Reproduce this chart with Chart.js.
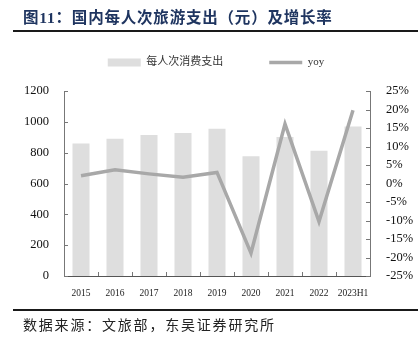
<!DOCTYPE html>
<html>
<head>
<meta charset="utf-8">
<script src="https://cdn.jsdelivr.net/npm/chart.js@4/dist/chart.umd.min.js"></script>
<style>
  html, body { margin: 0; padding: 0; background: #fff; }
  #wrap { position: relative; width: 418px; height: 345px; overflow: hidden; }
  #chart { position: absolute; left: 0; top: 0; }
  .title {
    position: absolute; left: 23px; top: 5px;
    font-family: "Liberation Serif", "Noto Sans CJK SC", serif;
    font-weight: bold; font-size: 15.5px; letter-spacing: 0.8px;
    color: #1f3560; white-space: nowrap;
  }
  .rule { position: absolute; left: 13px; right: 0; height: 2px; background: #1a1a1a; }
  .source {
    position: absolute; left: 23px; top: 314px;
    font-family: "Noto Sans CJK SC", sans-serif;
    font-size: 14px; letter-spacing: 1.8px; color: #222; white-space: nowrap;
  }
</style>
</head>
<body>
<div id="wrap">
  <canvas id="chart" width="418" height="345"></canvas>
  <div class="title">图11：国内每人次旅游支出（元）及增长率</div>
  <div class="rule" style="top:30px"></div>
  <div class="rule" style="top:309px"></div>
  <div class="source">数据来源：文旅部，东吴证券研究所</div>
</div>
<script>
// per-trip domestic tourism spending (yuan) and its growth rate (%)
var years = ["2015", "2016", "2017", "2018", "2019", "2020", "2021", "2022", "2023H1"];
var spending = [860, 890, 915, 928, 955, 776, 901, 812, 970];
var yoy = [2.1, 3.7, 2.6, 1.7, 3.0, -18.8, 16.1, -10.3, 19.8];

var serif = "'Liberation Serif', 'Noto Sans CJK SC', serif";

// small tick marks drawn on the inner side of each axis
var innerTicks = {
  id: "innerTicks",
  afterDraw: function(chart) {
    var ctx = chart.ctx;
    var x = chart.scales.x, y = chart.scales.y, y1 = chart.scales.y1;
    ctx.save();
    ctx.strokeStyle = "#777";
    ctx.lineWidth = 1;
    ctx.beginPath();
    y.ticks.forEach(function(t, i) {
      var py = Math.round(y.getPixelForTick(i)) + 0.5;
      ctx.moveTo(y.right, py);
      ctx.lineTo(y.right + 4, py);
    });
    y1.ticks.forEach(function(t, i) {
      var py = Math.round(y1.getPixelForTick(i)) + 0.5;
      ctx.moveTo(y1.left, py);
      ctx.lineTo(y1.left - 4, py);
    });
    for (var i = 0; i < years.length - 1; i++) {
      var px = Math.round((x.getPixelForValue(i) + x.getPixelForValue(i + 1)) / 2) + 0.5;
      ctx.moveTo(px, x.top);
      ctx.lineTo(px, x.top - 4);
    }
    ctx.stroke();
    ctx.restore();
  }
};

// extra room below the legend row
var legendSpace = {
  id: "legendSpace",
  beforeInit: function(chart) {
    var fit = chart.legend.fit;
    chart.legend.fit = function() {
      fit.bind(chart.legend)();
      this.height += 13;
    };
  }
};

var ctx = document.getElementById("chart");
var chart = new Chart(ctx, {
  data: {
    labels: years,
    datasets: [
      {
        type: "bar",
        label: "每人次消费支出",
        data: spending,
        backgroundColor: "#dedede",
        borderWidth: 0,
        barPercentage: 0.5,
        categoryPercentage: 1,
        pointStyle: "rect",
        yAxisID: "y",
        order: 2
      },
      {
        type: "line",
        label: "yoy",
        data: yoy,
        borderColor: "#a8a8a8",
        backgroundColor: "#a8a8a8",
        borderWidth: 3.5,
        pointRadius: 0,
        tension: 0,
        pointStyle: "line",
        yAxisID: "y1",
        order: 1
      }
    ]
  },
  options: {
    responsive: false,
    animation: false,
    layout: { padding: { top: 11, left: 14, right: 0, bottom: 45 } },
    plugins: {
      tooltip: { enabled: false },
      legend: {
        position: "top",
        labels: {
          usePointStyle: true,
          pointStyleWidth: 33,
          boxHeight: 8,
          padding: 46,
          color: "#333",
          font: { family: serif, size: 11 },
          sort: function(a, b) { return a.datasetIndex - b.datasetIndex; }
        }
      }
    },
    scales: {
      x: {
        offset: true,
        grid: { display: false, offset: true },
        border: { display: true, color: "#555", width: 1 },
        ticks: { color: "#222", font: { family: serif, size: 9.5 }, maxRotation: 0, padding: 4 },
        afterFit: function(s) { s.height = 24; }
      },
      y: {
        position: "left",
        min: 0, max: 1200,
        ticks: {
          stepSize: 200, color: "#111", font: { family: serif, size: 12.5 }, padding: 7,
          callback: function(v) { return String(v); }
        },
        grid: { display: false },
        border: { display: true, color: "#777", width: 1 },
        afterFit: function(s) { s.width = 50; }
      },
      y1: {
        position: "right",
        min: -25, max: 25,
        ticks: {
          stepSize: 5, color: "#111", font: { family: serif, size: 12.5 }, padding: 8,
          callback: function(v) { return v + "%"; }
        },
        grid: { display: false },
        border: { display: true, color: "#777", width: 1 },
        afterFit: function(s) { s.width = 48; }
      }
    }
  },
  plugins: [innerTicks, legendSpace]
});
</script>
</body>
</html>
